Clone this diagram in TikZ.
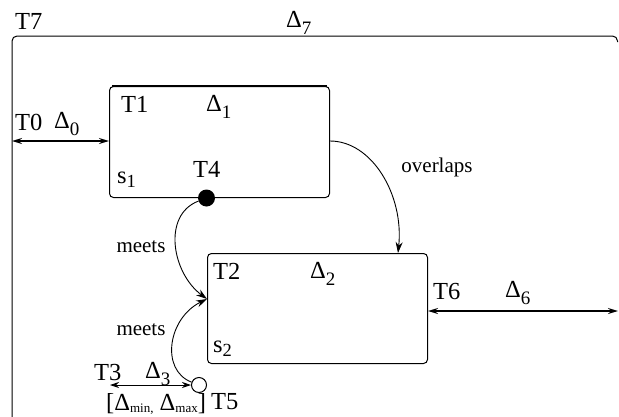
\documentclass[tikz,border=0pt]{standalone}
\usepackage{fontspec}
\setmainfont{Liberation Serif}
\usetikzlibrary{arrows.meta}
\newcommand\dsub[1]{\raisebox{-7pt}{\fontsize{19}{19}\selectfont #1}}
\newcommand\ssub[1]{\raisebox{-4pt}{\fontsize{18.5}{18.5}\selectfont #1}}
\newcommand\msub[1]{\raisebox{-2.5pt}{\fontsize{13}{13}\selectfont #1}}
\tikzset{
  lbl/.style={anchor=base west, inner sep=0pt, font=\fontsize{24.5}{29}\selectfont},
  rel/.style={inner sep=0pt, font=\fontsize{21}{25}\selectfont},
  box/.style={draw, line width=1pt, rounded corners=4pt, inner sep=0pt, anchor=north west},
  dblarrow/.style={line width=1.6pt, {Stealth[length=10pt,width=6pt]}-{Stealth[length=10pt,width=6pt]}},
  thinarrow/.style={line width=0.9pt, {Stealth[length=9pt,width=6pt]}-{Stealth[length=9pt,width=6pt]}},
  carrow/.style={line width=0.9pt, -{Stealth[length=11pt,width=7pt]}},
  frame/.style={line width=1pt, rounded corners=5pt}
}
\begin{document}
\begin{tikzpicture}[x=1pt,y=-1pt]
\useasboundingbox (0,0) rectangle (619,416);
% outer frame
\draw[frame] (12,422) -- (12,36) -- (617.5,36) -- (617.5,42);
\coordinate (f0) at (12,141);
\coordinate (f6) at (618,311);
% boxes
\node[box, minimum width=220pt, minimum height=111pt] (b1) at (109,86) {};
\draw[line width=2pt] ([xshift=3pt]b1.north west) -- ([xshift=-3pt]b1.north east);
\node[box, minimum width=220pt, minimum height=110pt] (b2) at (207,253) {};
% markers
\node[circle, fill=black, inner sep=0pt, minimum size=17pt] (t4) at (206.5,198) {};
\node[circle, draw, fill=white, line width=1pt, inner sep=0pt, minimum size=15pt] (t5) at (199,385) {};
\coordinate (t3) at (110,385);
\coordinate (in2) at (207,299);
\coordinate (ovend) at (398,253);
% connectors
\draw[dblarrow] (f0) -- (b1.west |- f0);
\draw[dblarrow] (b2.east |- f6) -- (f6);
\draw[thinarrow] (t3) -- (t5.west);
\draw[carrow] (b1.east |- f0) .. controls (372,141) and (404,195) .. (ovend);
\draw[carrow] (t4) .. controls (162,215) and (172,273) .. (in2);
\draw[carrow] (t5) .. controls (160,370) and (168,318) .. (in2);
% labels
\node[lbl] (lT7) at (15,29) {T7};
\node[lbl] (lD7) at (286,27) {Δ\dsub{7}};
\node[lbl] (lT0) at (15,130) {T0};
\node[lbl] (lD0) at (54,128) {Δ\dsub{0}};
\node[lbl] (lT1) at (121,112) {T1};
\node[lbl] (lD1) at (206,111) {Δ\dsub{1}};
\node[lbl] (ls1) at (117,183) {s\ssub{1}};
\node[lbl] (lT4) at (193,177) {T4};
\node[lbl] (lT2) at (213,279) {T2};
\node[lbl] (lD2) at (310,278) {Δ\dsub{2}};
\node[lbl] (ls2) at (213,352) {s\ssub{2}};
\node[lbl] (lT6) at (433,299) {T6};
\node[lbl] (lD6) at (505,297) {Δ\dsub{6}};
\node[lbl] (lT3) at (94,380) {T3};
\node[lbl] (lD3) at (145,378) {Δ\dsub{3}};
\node[lbl] (lrng) at (106,410) {[Δ\msub{min,} Δ\msub{max}]};
\node[lbl] (lT5) at (211,409) {T5};
\node[rel] (lm1) at (141,247) {meets};
\node[rel] (lm2) at (141,330) {meets};
\node[rel] (lov) at (437,167) {overlaps};
\end{tikzpicture}
\end{document}
